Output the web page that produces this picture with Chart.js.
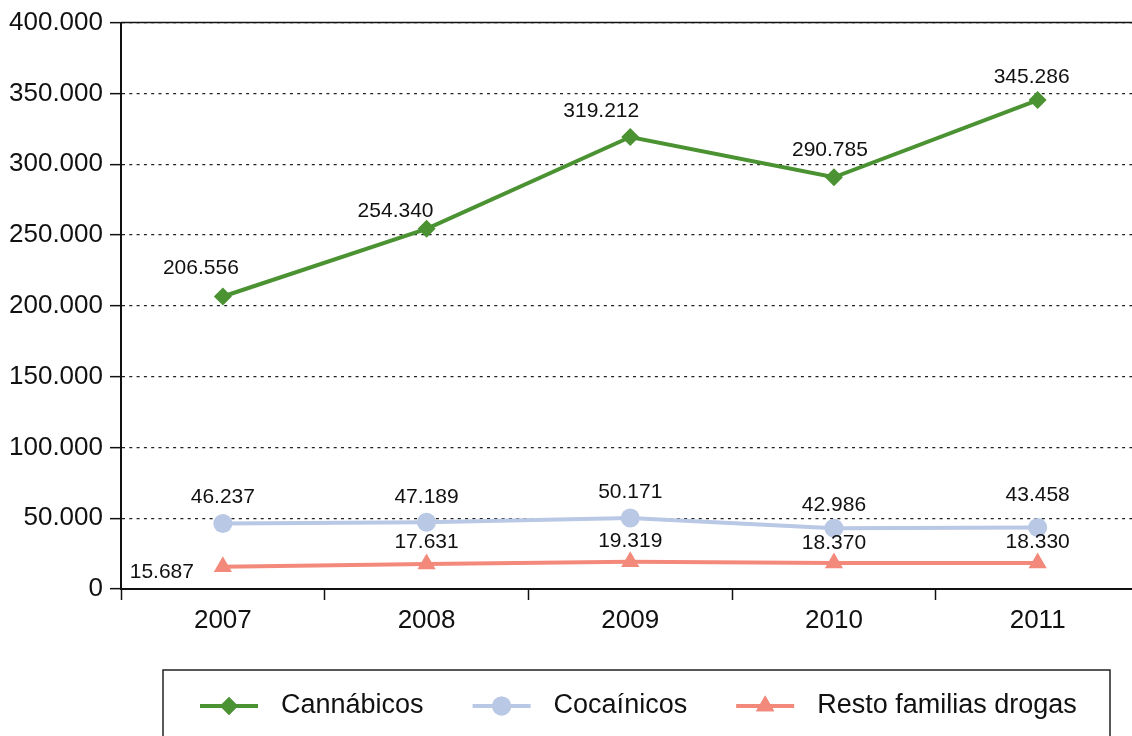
<!DOCTYPE html>
<html>
<head>
<meta charset="utf-8">
<script src="https://cdn.jsdelivr.net/npm/chart.js@4"></script>
<style>
  html, body { margin: 0; padding: 0; background: #fff; overflow: hidden; }
  #wrap { width: 1150px; height: 736px; }
</style>
</head>
<body>
<div id="wrap"><canvas id="drugChart" width="1150" height="736"></canvas></div>
<script>
const years = ["2007", "2008", "2009", "2010", "2011"];
const cannabicos = [206556, 254340, 319212, 290785, 345286];
const cocainicos = [46237, 47189, 50171, 42986, 43458];
const restoFamilias = [15687, 17631, 19319, 18370, 18330];
const yTicks = [0, 50000, 100000, 150000, 200000, 250000, 300000, 350000, 400000];

const FONT = "'Liberation Sans', Arial, Helvetica, sans-serif";
const fmt = v => Math.round(v).toString().replace(/\B(?=(\d{3})+(?!\d))/g, ".");

// label nudges (px) relative to each point
const labelOffsets = [
  [[-22, -28], [-31, -18], [-29, -26], [-4, -27], [-6, -23]],
  [[0, -26], [0, -25], [0, -26], [0, -23], [0, -32]],
  [[-61, 5], [0, -22], [0, -20], [0, -20], [0, -21]]
];

const dataLabels = {
  id: "dataLabels",
  afterDatasetsDraw(chart) {
    const ctx = chart.ctx;
    ctx.save();
    ctx.font = "21px " + FONT;
    ctx.fillStyle = "#111";
    ctx.textAlign = "center";
    ctx.textBaseline = "middle";
    chart.data.datasets.forEach((ds, i) => {
      chart.getDatasetMeta(i).data.forEach((pt, j) => {
        const off = labelOffsets[i][j];
        ctx.fillText(fmt(ds.data[j]), pt.x + off[0], pt.y + off[1]);
      });
    });
    ctx.restore();
  }
};

const frameAndLegend = {
  id: "frameAndLegend",
  afterDraw(chart) {
    const ctx = chart.ctx;
    const a = chart.chartArea;
    ctx.save();
    // solid top line
    ctx.strokeStyle = "#111";
    ctx.lineWidth = 1.5;
    ctx.beginPath();
    ctx.moveTo(a.left, a.top);
    ctx.lineTo(a.right, a.top);
    ctx.stroke();

    // legend box
    ctx.strokeStyle = "#222";
    ctx.lineWidth = 1.5;
    ctx.strokeRect(163, 670, 947, 90);

    ctx.font = "27px " + FONT;
    ctx.textBaseline = "middle";
    ctx.textAlign = "left";
    let x = 200;
    const y = 706;
    chart.data.datasets.forEach(ds => {
      ctx.strokeStyle = ds.borderColor;
      ctx.lineWidth = ds.borderWidth;
      ctx.beginPath();
      ctx.moveTo(x, y);
      ctx.lineTo(x + 58, y);
      ctx.stroke();
      ctx.fillStyle = ds.borderColor;
      Chart.helpers.drawPoint(ctx, {
        pointStyle: ds.pointStyle,
        radius: ds.pointRadius,
        borderWidth: 0,
        rotation: 0
      }, x + 29, y);
      ctx.fill();
      ctx.fillStyle = "#111";
      ctx.fillText(ds.label, x + 81, y);
      x += 81 + ctx.measureText(ds.label).width + 49;
    });
    ctx.restore();
  }
};

new Chart(document.getElementById("drugChart").getContext("2d"), {
  type: "line",
  data: {
    labels: years,
    datasets: [
      {
        label: "Cannábicos",
        data: cannabicos,
        borderColor: "rgb(74, 146, 50)",
        backgroundColor: "rgb(74, 146, 50)",
        borderWidth: 4,
        pointStyle: "rectRot",
        pointRadius: 9,
        pointBorderWidth: 0
      },
      {
        label: "Cocaínicos",
        data: cocainicos,
        borderColor: "rgb(185, 200, 228)",
        backgroundColor: "rgb(185, 200, 228)",
        borderWidth: 4,
        pointStyle: "circle",
        pointRadius: 9.5,
        pointBorderWidth: 0
      },
      {
        label: "Resto familias drogas",
        data: restoFamilias,
        borderColor: "rgb(242, 137, 123)",
        backgroundColor: "rgb(242, 137, 123)",
        borderWidth: 4,
        pointStyle: "triangle",
        pointRadius: 10.5,
        pointBorderWidth: 0
      }
    ]
  },
  options: {
    responsive: false,
    animation: false,
    layout: { padding: { top: 22, right: 1, bottom: 92, left: 0 } },
    plugins: {
      legend: { display: false },
      tooltip: { enabled: false }
    },
    scales: {
      x: {
        offset: true,
        grid: {
          offset: true,
          drawOnChartArea: false,
          drawTicks: true,
          tickLength: 11,
          tickColor: "#111",
          tickWidth: 1.5
        },
        border: { display: true, color: "#111", width: 2 },
        ticks: {
          color: "#111",
          font: { family: FONT, size: 26 },
          padding: 5
        },
        afterFit: s => { s.height = 55; }
      },
      y: {
        min: 0,
        max: 400000,
        afterBuildTicks: s => { s.ticks = yTicks.map(v => ({ value: v })); },
        grid: {
          color: "#222",
          lineWidth: 1.3,
          tickLength: 11,
          tickColor: "#111",
          tickWidth: 1.5
        },
        border: { display: true, color: "#111", width: 2, dash: [3, 4.3] },
        ticks: {
          color: "#111",
          font: { family: FONT, size: 26 },
          padding: 7,
          callback: v => fmt(v)
        },
        afterFit: s => { s.width = 121; }
      }
    }
  },
  plugins: [dataLabels, frameAndLegend]
});
</script>
</body>
</html>
